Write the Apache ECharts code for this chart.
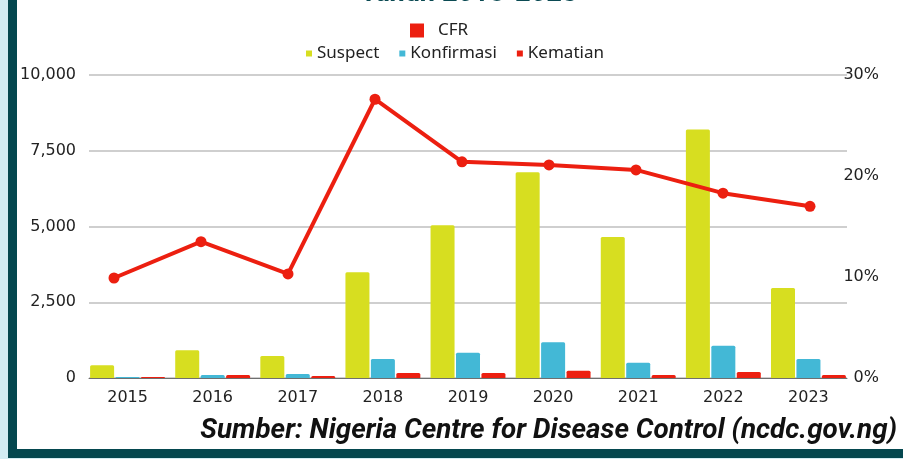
<!DOCTYPE html>
<html><head><meta charset="utf-8">
<script src="https://cdn.jsdelivr.net/npm/echarts@6/dist/echarts.min.js"></script>
<style>html,body{margin:0;padding:0;background:#fff}#c{width:903px;height:459px}</style>
</head><body><div id="c"></div>
<script>
var years = ['2015','2016','2017','2018','2019','2020','2021','2022','2023'];
var suspect = [420, 915, 725, 3490, 5045, 6790, 4655, 8200, 2970];
var konfirmasi = [30, 100, 132, 627, 835, 1180, 505, 1065, 627];
var kematian = [35, 100, 66, 165, 165, 240, 100, 195, 100];
var cfr = [9.9, 13.5, 10.3, 27.6, 21.4, 21.1, 20.6, 18.3, 17.0];
var leftTicks = {min: 0, max: 10000, interval: 2500};
var rightTicks = {min: 0, max: 30, interval: 10};

var cYellow = '#d7de20', cBlue = '#43b8d6', cRed = '#ec1f10';
var axFont = 'DejaVu Sans';
var chart = echarts.init(document.getElementById('c'), null, {renderer: 'canvas'});
var T = 75, B = 459 - 378;
chart.setOption({
  animation: false,
  backgroundColor: '#fff',
  graphic: [
    {type: 'rect', shape: {x: 0, y: 0, width: 8, height: 459}, style: {fill: '#d2ecf3'}, z: 100},
    {type: 'rect', shape: {x: 8, y: 0, width: 9, height: 458}, style: {fill: '#04474f'}, z: 100},
    {type: 'rect', shape: {x: 8, y: 449, width: 895, height: 9}, style: {fill: '#04474f'}, z: 100},
    {type: 'rect', shape: {x: 8, y: 458, width: 895, height: 1}, style: {fill: '#d2ecf3'}, z: 100},
    {type: 'text', x: 470, y: -6, style: {text: 'Tahun 2015-2023', font: 'italic bold 28px Roboto', fill: '#0b4a53', textAlign: 'center', textVerticalAlign: 'middle'}},
    {type: 'text', x: 897, y: 431, style: {text: 'Sumber: Nigeria Centre for Disease Control (ncdc.gov.ng)', font: 'italic bold 27.8px Roboto', fill: '#111', textAlign: 'right', textVerticalAlign: 'middle'}}
  ],
  legend: [
    {data: [{name: 'CFR', icon: 'rect'}], top: 22, left: 410, padding: 0, itemWidth: 14, itemHeight: 14, selectedMode: false,
     textStyle: {fontFamily: 'Noto Sans', fontSize: 17, color: '#222', padding: [0, 0, 0, 9]}},
    {data: [{name: 'Suspect', icon: 'rect'}, {name: 'Konfirmasi', icon: 'rect'}, {name: 'Kematian', icon: 'rect'}],
     top: 45, left: 306, padding: 0, itemWidth: 6, itemHeight: 6, itemGap: 20, selectedMode: false,
     textStyle: {fontFamily: 'Noto Sans', fontSize: 17, color: '#222'}}
  ],
  grid: [
    {left: 89, right: 903 - 847, top: T, bottom: B},
    {left: 85, right: 903 - 851, top: T, bottom: B},
    {left: 114, right: 903 - 810, top: T, bottom: B}
  ],
  xAxis: [
    {type: 'category', gridIndex: 0, data: years, axisLine: {show: true, lineStyle: {color: '#6f6f6f', width: 1}}, axisTick: {show: false}, axisLabel: {show: false}, splitLine: {show: false}},
    {type: 'category', gridIndex: 1, data: years, axisLine: {show: false}, axisTick: {show: false},
     axisLabel: {fontFamily: axFont, fontSize: 16, color: '#222', margin: 12}},
    {type: 'category', gridIndex: 2, data: years, boundaryGap: false, show: false}
  ],
  yAxis: [
    {type: 'value', gridIndex: 0, min: leftTicks.min, max: leftTicks.max, interval: leftTicks.interval,
     axisLine: {show: false}, axisTick: {show: false},
     axisLabel: {fontFamily: axFont, fontSize: 16, color: '#222', margin: 13, formatter: function (v) { return v.toLocaleString('en-US'); }},
     splitLine: {lineStyle: {color: '#bfbfbf', width: 1.5}}},
    {type: 'value', gridIndex: 0, position: 'right', min: rightTicks.min, max: rightTicks.max, interval: rightTicks.interval,
     axisLine: {show: false}, axisTick: {show: false}, splitLine: {show: false},
     axisLabel: {fontFamily: axFont, fontSize: 16, color: '#222', margin: 32, align: 'right', formatter: '{value}%'}},
    {type: 'value', gridIndex: 1, min: leftTicks.min, max: leftTicks.max, show: false, splitLine: {show: false}},
    {type: 'value', gridIndex: 2, min: rightTicks.min, max: rightTicks.max, show: false, splitLine: {show: false}}
  ],
  series: [
    {name: 'Suspect', type: 'bar', xAxisIndex: 1, yAxisIndex: 2, data: suspect, barCategoryGap: '12%', barGap: '6%',
     itemStyle: {color: cYellow, borderRadius: [1.5, 1.5, 0, 0]}},
    {name: 'Konfirmasi', type: 'bar', xAxisIndex: 1, yAxisIndex: 2, data: konfirmasi, barCategoryGap: '12%', barGap: '6%',
     itemStyle: {color: cBlue, borderRadius: [1.5, 1.5, 0, 0]}},
    {name: 'Kematian', type: 'bar', xAxisIndex: 1, yAxisIndex: 2, data: kematian, barCategoryGap: '12%', barGap: '6%',
     itemStyle: {color: cRed, borderRadius: [1.5, 1.5, 0, 0]}},
    {name: 'CFR', type: 'line', xAxisIndex: 2, yAxisIndex: 3, data: cfr, symbol: 'circle', symbolSize: 11,
     lineStyle: {color: cRed, width: 4}, itemStyle: {color: cRed}, z: 5}
  ]
});
</script></body></html>
